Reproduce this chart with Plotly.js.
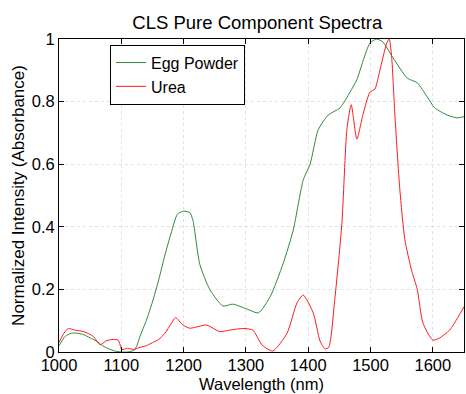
<!DOCTYPE html>
<html><head><meta charset="utf-8">
<script src="https://cdn.plot.ly/plotly-3.0.1.min.js"></script>
<style>html,body{margin:0;padding:0;background:#fff}#c{width:466px;height:394px}</style>
</head><body><div id="c"></div>
<script>
var eggX = [1000,1010,1020,1030,1040,1050,1060,1070,1080,1090,1100,1110,1120,1125,1130,1140,1150,1160,1170,1180,1190,1200,1210,1215,1226,1242,1263,1279,1302,1320,1339,1360,1376,1392,1403,1416,1432,1451,1467,1478,1488,1499,1510,1520,1536,1559,1575,1591,1603,1623,1639,1650];
var eggY = [0.02,0.05,0.06,0.06,0.055,0.045,0.035,0.02,0.01,0.003,0.0,0.0,0.005,0.02,0.05,0.1,0.16,0.23,0.31,0.38,0.44,0.45,0.445,0.42,0.28,0.2,0.147,0.153,0.137,0.125,0.177,0.284,0.39,0.55,0.6,0.71,0.757,0.78,0.83,0.87,0.93,0.987,1.0,0.99,0.94,0.875,0.86,0.815,0.78,0.757,0.748,0.752];
var ureaX = [1000,1008,1015,1025,1040,1055,1066,1075,1085,1095,1101,1110,1120,1130,1140,1150,1160,1170,1180,1187,1199,1210,1237,1258,1274,1295,1311,1326,1343,1366,1382,1392,1408,1419,1427,1433,1443,1454,1462,1469,1478,1488,1499,1507,1515,1526,1530,1534,1539,1547,1555,1566,1575,1584,1600,1611,1627,1640,1650];
var ureaY = [0.03,0.06,0.075,0.07,0.065,0.05,0.023,0.035,0.04,0.038,0.008,0.012,0.008,0.015,0.02,0.03,0.04,0.06,0.09,0.11,0.086,0.076,0.086,0.065,0.07,0.075,0.07,0.022,0.003,0.06,0.157,0.182,0.125,0.035,0.01,0.015,0.176,0.41,0.71,0.79,0.68,0.76,0.83,0.84,0.9,0.987,1.0,0.94,0.76,0.52,0.36,0.26,0.2,0.093,0.038,0.045,0.07,0.11,0.145];
var names = ['Egg Powder','Urea'];
var xTicks = [1000,1100,1200,1300,1400,1500,1600];
var yTicks = [0,0.2,0.4,0.6,0.8,1];
var xTitle = 'Wavelength (nm)';
var yTitle = 'Normalized Intensity (Absorbance)';
var traces = [
  {x: eggX, y: eggY, name: names[0], type:'scatter', mode:'lines', line:{color:'#2f8a3a', width:1, shape:'spline', smoothing:0.6}},
  {x: ureaX, y: ureaY, name: names[1], type:'scatter', mode:'lines', line:{color:'#ff1a1a', width:1, shape:'spline', smoothing:0.6}}
];
var FONT = 'Liberation Sans, Arial, sans-serif';
var ax = {showline:true, linecolor:'#000', linewidth:1, mirror:'ticks', ticks:'inside', ticklen:5, tickcolor:'#000',
  showgrid:true, gridcolor:'#e2e2e2', griddash:'dot', gridwidth:1, zeroline:false,
  tickfont:{family:FONT, size:16.5, color:'#000'}};
var layout = {
  width:466, height:394,
  margin:{l:59, r:2, t:39, b:42},
  paper_bgcolor:'#fff', plot_bgcolor:'#fff',
  font:{family:FONT, color:'#000'},
  title:{text:'CLS Pure Component Spectra', font:{size:18.5, color:'#000'}, x:0.552, xanchor:'center', y:0.942, yanchor:'middle'},
  xaxis:Object.assign({}, ax, {range:[1000,1650], tickvals:xTicks, ticktext:xTicks.map(String), ticklabelstandoff:-2}),
  yaxis:Object.assign({}, ax, {range:[0,1], tickvals:yTicks, ticktext:yTicks.map(String),
    title:{text:yTitle, font:{size:17, color:'#000'}, standoff:2}}),
  annotations:[{text:xTitle, xref:'paper', yref:'paper', x:0.5, y:-0.1342, xanchor:'center', yanchor:'bottom',
    showarrow:false, borderpad:0, font:{family:FONT, size:16.5, color:'#000'}}],
  showlegend:true,
  legend:{x:0.126, y:0.982, xanchor:'left', yanchor:'top', bgcolor:'#fff', bordercolor:'#000', borderwidth:1,
    font:{size:16, color:'#000'}, tracegroupgap:0, itemwidth:30}
};
Plotly.newPlot('c', traces, layout, {staticPlot:true, displayModeBar:false});
</script></body></html>
